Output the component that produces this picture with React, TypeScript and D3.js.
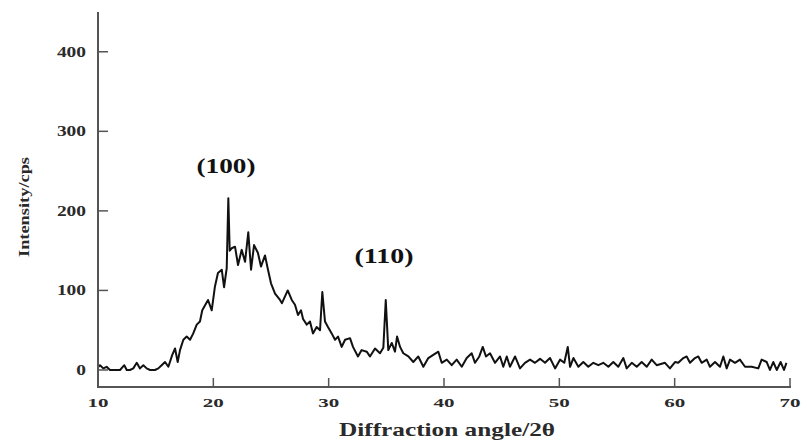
import React from "react";
import * as d3 from "d3";

const twoTheta: number[] = [
  10.03, 10.17, 10.46, 10.75, 11.04, 11.47, 11.91, 12.28, 12.49, 12.77, 13.06, 13.36, 13.64, 13.93, 14.22, 14.51,
  14.94, 15.23, 15.52, 15.81, 16.1, 16.44, 16.68, 16.91, 17.11, 17.4, 17.69, 17.98, 18.26, 18.56, 18.84, 19.04,
  19.54, 19.86, 20.14, 20.4, 20.73, 20.93, 21.16, 21.3, 21.42, 21.59, 21.88, 22.14, 22.46, 22.75, 23.03, 23.27,
  23.53, 23.87, 24.13, 24.48, 24.74, 25.0, 25.35, 25.78, 25.95, 26.45, 26.8, 27.08, 27.34, 27.6, 27.78, 28.1,
  28.38, 28.64, 28.96, 29.25, 29.45, 29.68, 29.94, 30.26, 30.55, 30.81, 31.13, 31.42, 31.85, 32.11, 32.54, 32.86,
  33.3, 33.58, 34.02, 34.45, 34.74, 34.95, 35.17, 35.47, 35.75, 35.93, 36.19, 36.47, 36.91, 37.34, 37.77, 38.21,
  38.64, 39.07, 39.51, 39.8, 40.24, 40.67, 41.1, 41.54, 41.97, 42.4, 42.69, 43.06, 43.36, 43.64, 43.99, 44.42,
  44.86, 45.14, 45.44, 45.72, 46.16, 46.59, 47.02, 47.46, 47.89, 48.33, 48.76, 49.19, 49.63, 50.06, 50.43, 50.73,
  50.93, 51.22, 51.65, 52.08, 52.51, 52.95, 53.38, 53.81, 54.25, 54.68, 55.11, 55.55, 55.84, 56.28, 56.71, 57.14,
  57.58, 58.01, 58.44, 59.16, 59.59, 60.03, 60.31, 60.75, 61.04, 61.33, 61.76, 62.05, 62.34, 62.78, 63.06, 63.5,
  63.93, 64.22, 64.51, 64.8, 65.23, 65.66, 66.1, 66.68, 67.25, 67.54, 67.98, 68.26, 68.55, 68.85, 69.19, 69.48,
  69.69,
];

const intensity: number[] = [
  4, 6, 2, 4, 0, 0, 0, 6, 0, 0, 2, 9, 2, 6, 2, 0,
  0, 2, 6, 10, 4, 19, 27, 10, 25, 38, 42, 38, 46, 57, 61, 75,
  88, 75, 105, 122, 126, 104, 128, 216, 150, 153, 155, 132, 151, 136, 173, 126,
  157, 147, 130, 144, 126, 109, 96, 88, 84, 100, 88, 82, 69, 75, 64, 57,
  61, 46, 54, 50, 98, 61, 54, 46, 38, 42, 29, 38, 40, 29, 17, 25,
  23, 17, 27, 21, 28, 88, 25, 34, 23, 42, 29, 21, 17, 10, 17, 4,
  15, 19, 23, 9, 13, 6, 13, 4, 15, 21, 9, 17, 29, 17, 21, 9,
  17, 4, 17, 4, 17, 2, 9, 13, 9, 14, 9, 15, 2, 13, 9, 29,
  4, 15, 4, 10, 4, 9, 6, 9, 4, 10, 4, 15, 2, 9, 4, 10,
  4, 13, 6, 9, 2, 10, 9, 15, 17, 9, 15, 17, 9, 13, 4, 10,
  4, 17, 2, 13, 9, 13, 4, 4, 2, 13, 10, 0, 10, 0, 10, 0,
  9,
];

const xTicks: number[] = [10, 20, 30, 40, 50, 60, 70];
const yTicks: number[] = [0, 100, 200, 300, 400];
const peakLabels: { text: string; angle: number; value: number }[] = [
  { text: "(100)", angle: 21.1, value: 248 },
  { text: "(110)", angle: 34.8, value: 134 },
];

const W = 807;
const H = 444;
const FONT = '"Liberation Serif", "Times New Roman", serif';
const TEXT_COLOR = "#2a2a2a";
const AXIS_COLOR = "#555";

export default function App() {
  const x = d3.scaleLinear().domain([10, 70]).range([98, 790]);
  const y = d3.scaleLinear().domain([-21.4, 450]).range([387, 12]);

  const pts: [number, number][] = twoTheta.map((t, i) => [t, intensity[i]]);
  const line = d3
    .line<[number, number]>()
    .x((d) => x(d[0]))
    .y((d) => y(d[1]));

  const x0 = x(10);
  const yBase = y(-21.4);

  return (
    <svg
      width={W}
      height={H}
      style={{ position: "fixed", left: 0, top: 0, background: "#fff" }}
      fontFamily={FONT}
    >
      <rect x={0} y={0} width={W} height={H} fill="#fff" />
      <path
        d={line(pts) || ""}
        fill="none"
        stroke="#111"
        strokeWidth={2}
        strokeLinejoin="round"
      />
      <line x1={x0} x2={x0} y1={y(450)} y2={yBase} stroke={AXIS_COLOR} strokeWidth={2} />
      <line x1={x0 - 1} x2={x(70) + 1} y1={yBase} y2={yBase} stroke={AXIS_COLOR} strokeWidth={2} />
      {yTicks.map((t) => (
        <g key={"y" + t}>
          <line x1={x0} x2={x0 + 10} y1={y(t)} y2={y(t)} stroke={AXIS_COLOR} strokeWidth={1.5} />
          <text
            x={86}
            y={y(t) + 5}
            textAnchor="end"
            fontSize={14}
            fontWeight="bold"
            fill={TEXT_COLOR}
            textLength={String(t).length * 9.7}
            lengthAdjust="spacingAndGlyphs"
          >
            {t}
          </text>
        </g>
      ))}
      {xTicks.map((t) => (
        <g key={"x" + t}>
          <line x1={x(t)} x2={x(t)} y1={yBase} y2={yBase - 9} stroke={AXIS_COLOR} strokeWidth={1.5} />
          <text
            x={x(t)}
            y={407}
            textAnchor="middle"
            fontSize={13}
            fontWeight="bold"
            fill={TEXT_COLOR}
            textLength={String(t).length * 10.5}
            lengthAdjust="spacingAndGlyphs"
          >
            {t}
          </text>
        </g>
      ))}
      <text
        x={447}
        y={436}
        textAnchor="middle"
        fontSize={19}
        fontWeight="bold"
        fill={TEXT_COLOR}
        textLength={216}
        lengthAdjust="spacingAndGlyphs"
      >
        Diffraction angle/2θ
      </text>
      <text
        transform={`translate(29,207) rotate(-90)`}
        textAnchor="middle"
        fontSize={15}
        fontWeight="bold"
        fill={TEXT_COLOR}
        textLength={100}
        lengthAdjust="spacingAndGlyphs"
      >
        Intensity/cps
      </text>
      {peakLabels.map((p) => (
        <text
          key={p.text}
          x={x(p.angle)}
          y={y(p.value)}
          textAnchor="middle"
          fontSize={20}
          fontWeight="bold"
          fill="#111"
          textLength={59}
          lengthAdjust="spacingAndGlyphs"
        >
          {p.text}
        </text>
      ))}
    </svg>
  );
}
